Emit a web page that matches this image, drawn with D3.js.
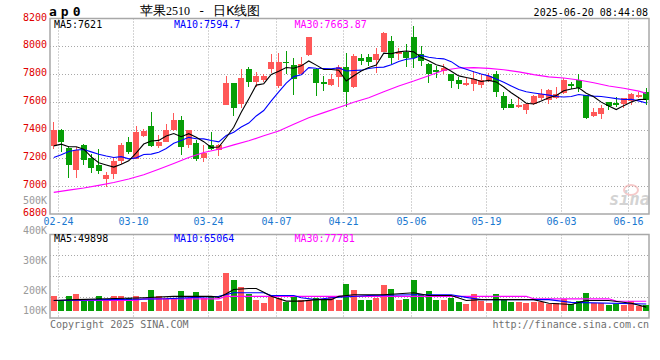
<!DOCTYPE html>
<html>
<head>
<meta charset="utf-8">
<script src="https://cdn.jsdelivr.net/npm/d3@7"></script>
<style>
body { margin: 0; background: #fff; }
svg { display: block; }
text { font-family: "DejaVu Sans Mono", monospace; }
</style>
</head>
<body>
<div id="chart"></div>
<script>
// daily candles, 苹果2510
const open = [7286,7405,7276,7118,7292,7200,7152,7052,7086,7176,
  7314,7195,7362,7433,7290,7319,7400,7474,7295,7309,
  7200,7296,7255,7581,7738,7588,7838,7748,7757,7838,
  7719,7890,7867,7800,7940,7840,7748,7724,7783,7852,
  7712,7919,7926,7905,7962,8038,7943,7960,8069,7948,
  7876,7833,7824,7805,7757,7722,7729,7721,7752,7805,
  7643,7586,7567,7543,7590,7633,7614,7629,7669,7729,
  7757,7652,7502,7514,7605,7598,7590,7610,7638,7676]
const high = [7462,7410,7286,7280,7300,7230,7265,7104,7205,7305,
  7352,7431,7410,7533,7367,7443,7524,7505,7405,7331,
  7295,7386,7300,7790,7738,7838,7852,7814,7800,7943,
  7950,7967,7919,7925,8065,7845,7790,7805,7870,7955,
  7945,7948,7948,7990,8102,8074,7990,8014,8148,8002,
  7880,7860,7871,7805,7781,7781,7824,7805,7812,7824,
  7676,7621,7638,7598,7652,7693,7693,7710,7776,7748,
  7805,7655,7557,7581,7605,7638,7633,7669,7676,7700]
const low = [7264,7247,7057,7060,7150,7095,7086,6990,7052,7155,
  7229,7195,7348,7283,7276,7314,7395,7219,7276,7176,
  7171,7255,7212,7581,7503,7562,7712,7712,7745,7807,
  7700,7800,7650,7795,7935,7642,7680,7720,7710,7569,
  7700,7867,7860,7812,7962,7871,7900,7852,7848,7860,
  7736,7771,7805,7700,7693,7717,7681,7705,7748,7640,
  7548,7557,7562,7519,7581,7614,7590,7621,7662,7693,
  7676,7483,7495,7479,7543,7567,7557,7581,7633,7581]
const close = [7405,7319,7152,7260,7186,7130,7105,7076,7181,7295,
  7247,7386,7395,7290,7319,7400,7474,7283,7400,7195,
  7240,7268,7296,7740,7562,7776,7748,7790,7790,7890,
  7890,7884,7767,7876,8065,7740,7728,7765,7850,7676,
  7933,7895,7890,7943,8098,7914,7960,7919,7914,7895,
  7800,7819,7843,7752,7729,7740,7769,7757,7788,7676,
  7557,7562,7581,7590,7648,7662,7686,7657,7757,7714,
  7705,7490,7533,7562,7574,7581,7629,7662,7652,7614]
const volume = [106,79,103,111,82,79,102,79,102,102,
  95,106,73,131,102,95,95,126,95,121,
  95,106,79,214,179,147,111,82,69,102,
  95,77,102,82,82,95,82,105,86,160,
  131,86,82,95,155,135,82,87,179,115,
  126,82,82,95,73,63,111,79,69,111,
  90,73,73,69,73,73,66,69,90,66,
  79,118,69,69,59,63,59,79,57,59].map(v => v * 1000)

const ma5 = [7288,7300,7282,7282,7264,7209,7167,7151,7136,7157,
  7181,7237,7301,7323,7327,7358,7376,7353,7375,7350,
  7318,7277,7280,7348,7421,7528,7624,7723,7733,7799,
  7822,7849,7844,7861,7896,7866,7835,7835,7830,7752,
  7790,7824,7849,7867,7952,7948,7961,7967,7961,7920,
  7898,7869,7854,7822,7789,7777,7767,7749,7757,7746,
  7709,7668,7633,7593,7588,7609,7633,7649,7682,7695,
  7704,7665,7640,7601,7573,7548,7576,7602,7620,7621]
const ma10 = [7205,7224,7248,7258,7262,7245,7228,7215,7205,7211,
  7195,7202,7226,7229,7242,7269,7306,7327,7349,7339,
  7338,7326,7317,7362,7386,7423,7451,7502,7541,7610,
  7675,7737,7784,7797,7848,7844,7842,7840,7846,7824,
  7828,7830,7842,7849,7852,7869,7892,7908,7914,7936,
  7923,7915,7911,7891,7855,7837,7818,7802,7789,7767,
  7743,7717,7691,7675,7667,7659,7651,7641,7638,7641,
  7656,7649,7644,7641,7634,7626,7620,7621,7610,7595]
// [day index, value]
const ma30 = [[0,6955],[2,6971],[4,6986],[6,7005],[8,7026],[10,7050],[12,7081],[14,7121],
  [16,7162],[18,7205],[20,7240],[22,7264],[24,7295],[26,7324],[28,7360],[30,7395],
  [32,7443],[34,7490],[36,7526],[38,7562],[40,7600],[42,7633],[44,7676],[46,7717],
  [48,7752],[50,7790],[52,7830],[54,7845],[56,7848],[58,7843],[60,7833],[62,7818],
  [64,7798],[66,7782],[68,7774],[70,7760],[72,7740],[74,7717],[76,7700],[78,7680],[79,7664]]

const volMa5 = [[0,82],[3,86],[7,90],[12,95],[16,102],[21,102],[22,97],[23,115],[24,135],
  [26,140],[27,140],[28,122],[29,102],[31,79],[33,79],[35,86],[37,86],[38,102],[40,110],
  [44,110],[48,119],[50,106],[53,106],[55,82],[57,86],[64,86],[66,69],[69,63],[71,82],
  [74,82],[77,69],[79,50]]
const volMa10 = [[0,82],[7,86],[15,90],[22,102],[24,119],[28,119],[29,106],[32,106],[33,95],
  [35,86],[37,95],[42,106],[48,110],[53,110],[55,97],[57,86],[66,86],[69,73],[79,65]]
const volMa30 = [[0,82],[11,82],[12,90],[22,90],[23,102],[63,102],[64,90],[74,90],[75,79],[79,78]]

const priceTicks = [6800,7000,7200,7400,7600,7800,8000,8200]
const volTicks = [100000,200000,300000,400000,500000]
const tickIndex = [1,11,21,30,39,48,58,68,77]
const tickLabels = ["02-24","03-10","03-24","04-07","04-21","05-06","05-19","06-03","06-16"]

const red = "#ff5858", green = "#079e07", gridCol = "#a8a8a8"
const left = 50, right = 649

const svg = d3.select("#chart").append("svg")
	.attr("width", 660)
	.attr("height", 360)

const x = d3.scaleBand()
	.domain(d3.range(close.length))
	.range([50, 650])
	.paddingInner(0.2)
	.paddingOuter(0.1)
const bw = x.bandwidth()
const cx = i => x(i) + bw / 2

const y = d3.scaleLinear().domain([6800, 8200]).range([214, 18.5])
const vy = d3.scaleLinear().domain([0, 400000]).range([317.5, 234.5])
const vLabel = d3.scaleLinear().domain([200000, 500000]).range([290.7, 200])

// grid lines
const grid = svg.append("g")
	.attr("stroke", gridCol)
	.attr("stroke-dasharray", "1,2")
grid.selectAll(".hp")
	.data(priceTicks.filter(d => d > 6800 && d < 8200))
	.enter().append("line")
	.attr("x1", left).attr("x2", right)
	.attr("y1", d => Math.round(y(d)) + 0.5)
	.attr("y2", d => Math.round(y(d)) + 0.5)
grid.selectAll(".hv")
	.data([100000, 200000, 300000])
	.enter().append("line")
	.attr("x1", left).attr("x2", right)
	.attr("y1", d => Math.round(vy(d)) + 0.5)
	.attr("y2", d => Math.round(vy(d)) + 0.5)
tickIndex.forEach(i => {
	const gx = Math.round(x(i)) + 0.5
	grid.append("line").attr("x1", gx).attr("x2", gx).attr("y1", 18.5).attr("y2", 214)
	grid.append("line").attr("x1", gx).attr("x2", gx).attr("y1", 234.5).attr("y2", 318)
})

// frames
svg.append("rect").attr("x", left).attr("y", 18.5).attr("width", right - left).attr("height", 195.5)
	.attr("fill", "none").attr("stroke", gridCol).attr("stroke-width", 1.5)
svg.append("rect").attr("x", left).attr("y", 234.5).attr("width", right - left).attr("height", 83.5)
	.attr("fill", "none").attr("stroke", gridCol).attr("stroke-width", 1.5)

// sina watermark
const wm = svg.append("g").attr("opacity", 0.55)
wm.append("ellipse").attr("cx", 631).attr("cy", 190).attr("rx", 7).attr("ry", 5)
	.attr("fill", "none").attr("stroke", "#f0a0a0").attr("stroke-width", 2)
wm.append("text").attr("x", 650).attr("y", 205).attr("text-anchor", "end")
	.attr("font-family", "DejaVu Sans").attr("font-size", "17px")
	.attr("font-weight", "bold").attr("font-style", "italic")
	.attr("fill", "#b0b0b0").text("sina")

// candles
const candles = svg.append("g").attr("shape-rendering", "crispEdges")
close.forEach((c, i) => {
	const col = c >= open[i] ? red : green
	candles.append("line")
		.attr("x1", Math.floor(cx(i)) + 0.5).attr("x2", Math.floor(cx(i)) + 0.5)
		.attr("y1", y(high[i])).attr("y2", y(low[i]))
		.attr("stroke", col)
	const top = y(Math.max(c, open[i])), bot = y(Math.min(c, open[i]))
	candles.append("rect")
		.attr("x", x(i)).attr("width", bw)
		.attr("y", top).attr("height", Math.max(1.5, bot - top))
		.attr("fill", col)
})

const line = d3.line().x(d => cx(d[0])).y(d => y(d[1]))
const addLine = (data, col, scale) => svg.append("path")
	.datum(data)
	.attr("fill", "none")
	.attr("stroke", col)
	.attr("stroke-width", 1.1)
	.attr("d", d3.line().x(d => cx(d[0])).y(d => scale(d[1])))

addLine(ma30, "#ff00ff", y)
addLine(ma10.map((v, i) => [i, v]), "#0000ff", y)
addLine(ma5.map((v, i) => [i, v]), "#000", y)

// volume bars
svg.append("g").attr("shape-rendering", "crispEdges")
	.selectAll("rect")
	.data(volume)
	.enter().append("rect")
	.attr("x", (d, i) => x(i))
	.attr("width", bw)
	.attr("y", d => vy(d))
	.attr("height", d => 311 - vy(d))
	.attr("fill", (d, i) => close[i] >= open[i] ? red : green)

const vk = arr => arr.map(d => [d[0], d[1] * 1000])
addLine(vk(volMa30), "#ff00ff", vy)
addLine(vk(volMa10), "#0000ff", vy)
addLine(vk(volMa5), "#000", vy)

// price axis labels
const yAxis = d3.axisLeft(y).tickValues(priceTicks).tickSize(0).tickPadding(0).tickFormat(d3.format("d"))
svg.append("g")
	.attr("transform", "translate(47,0)")
	.call(yAxis)
	.call(g => g.select(".domain").remove())
	.selectAll("text")
	.attr("dy", "0.15em")
	.attr("font-family", "DejaVu Sans Mono")
	.attr("font-size", "10px")
	.attr("fill", "#e00000")

// volume labels
svg.append("g").selectAll("text")
	.data(volTicks)
	.enter().append("text")
	.attr("x", 47)
	.attr("y", d => Math.min(vLabel(d), 310) + 3.5)
	.attr("text-anchor", "end")
	.attr("font-size", "10px")
	.attr("fill", "#9a9a9a")
	.text(d => d / 1000 + "K")

// date labels
svg.append("g").selectAll("text")
	.data(tickIndex)
	.enter().append("text")
	.attr("x", d => Math.round(x(d)) + 0.5)
	.attr("y", 224.5)
	.attr("text-anchor", "middle")
	.attr("font-size", "10px")
	.attr("fill", "#1a78d0")
	.text((d, i) => tickLabels[i])

// header
svg.append("text").attr("x", 49).attr("y", 16)
	.attr("font-size", "13px").attr("font-weight", "bold")
	.attr("letter-spacing", "4px").attr("fill", "#000").text("ap0")
const title = svg.append("text").attr("x", 140).attr("y", 15)
	.attr("font-family", "Noto Sans CJK SC").attr("font-size", "13px").attr("fill", "#000")
title.append("tspan").text("苹果")
title.append("tspan").attr("font-family", "Liberation Serif").attr("font-size", "12px").text("2510")
title.append("tspan").text(" - 日K线图")
svg.append("text").attr("x", 648).attr("y", 15.5).attr("text-anchor", "end")
	.attr("font-size", "10px").attr("fill", "#000").text("2025-06-20 08:44:08")

const maText = (yy, vals) => {
	const cols = ["#000", "#0000ff", "#ff00ff"], xs = [54, 174, 294.5]
	vals.forEach((t, k) => svg.append("text").attr("x", xs[k]).attr("y", yy)
		.attr("font-size", "10px").attr("fill", cols[k]).text(t))
}
maText(27.5, ["MA5:7621", "MA10:7594.7", "MA30:7663.87"])
maText(242, ["MA5:49898", "MA10:65064", "MA30:77781"])

// footer
svg.append("text").attr("x", 50).attr("y", 327.5)
	.attr("font-size", "10px").attr("fill", "#707070").text("Copyright 2025 SINA.COM")
svg.append("text").attr("x", 649).attr("y", 327.5).attr("text-anchor", "end")
	.attr("font-size", "10px").attr("fill", "#707070").text("http://finance.sina.com.cn")
</script>
</body>
</html>
